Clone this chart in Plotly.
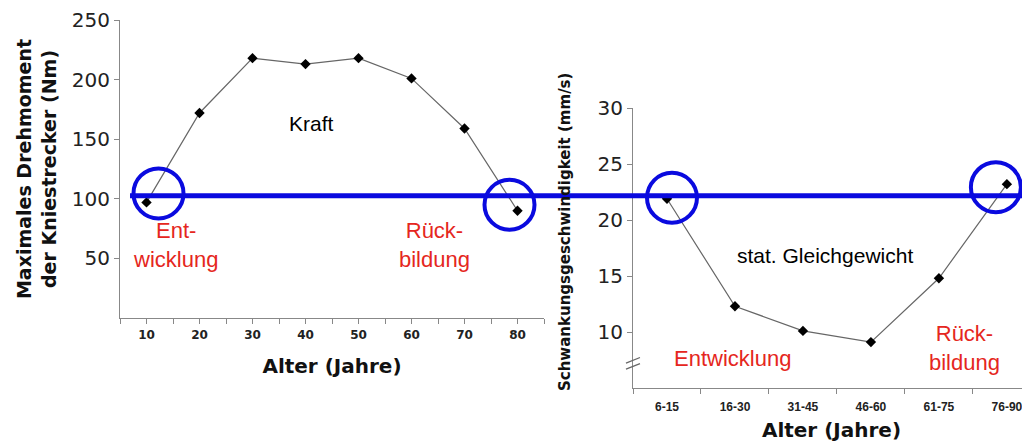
import plotly.graph_objects as go

# Left chart: Kraft
age_left = [10, 20, 30, 40, 50, 60, 70, 80]
torque = [97, 172, 218, 213, 218, 201, 159, 90]
left_xticks = [10, 20, 30, 40, 50, 60, 70, 80]
left_yticks = [50, 100, 150, 200, 250]

# Right chart: stat. Gleichgewicht
age_groups = ["6-15", "16-30", "31-45", "46-60", "61-75", "76-90"]
sway = [21.9, 12.3, 10.1, 9.1, 14.8, 23.2]
right_yticks = [10, 15, 20, 25, 30]

ref_level = 102.5  # blue reference line, in left-axis units

# page has an 8px body margin: size the figure to fill the rest of the window
OFF = 8
W, H = 1030 - OFF, 444 - OFF


def px(x):
    return (x - OFF) / W


def py(y):
    return 1 - (y - OFF) / H


comic = "DejaVu Sans"
arial = "Liberation Sans"
red = "#e52620"
blue = "#0a0adf"

fig = go.Figure()
fig.add_trace(go.Scatter(x=age_left, y=torque, mode="lines+markers",
                         line=dict(color="#666666", width=1.2),
                         marker=dict(symbol="diamond", size=8, color="black"),
                         xaxis="x", yaxis="y", showlegend=False))
fig.add_trace(go.Scatter(x=age_groups, y=sway, mode="lines+markers",
                         line=dict(color="#666666", width=1.2),
                         marker=dict(symbol="diamond", size=8, color="black"),
                         xaxis="x2", yaxis="y2", showlegend=False))

axis_common = dict(showline=True, linecolor="#888888", linewidth=1.2, showgrid=False,
                   zeroline=False, ticks="outside", tickcolor="#888888", ticklen=5,
                   automargin=False)

fig.update_layout(
    width=W, height=H, margin=dict(l=0, r=0, t=0, b=0),
    paper_bgcolor="white", plot_bgcolor="white",
    xaxis=dict(domain=[px(120), px(544)], range=[5, 85], anchor="y",
               tickmode="array", tickvals=list(range(5, 86, 5)),
               ticktext=[f"<b>{v}</b>" if v in left_xticks else "" for v in range(5, 86, 5)],
               tickfont=dict(family=comic, size=12, color="#222"),
               title=dict(text="<b>Alter (Jahre)</b>", font=dict(family=comic, size=20, color="#111"),
                          standoff=18),
               **axis_common),
    yaxis=dict(domain=[py(318), py(20)], range=[0, 250], anchor="x",
               tickvals=left_yticks, tickfont=dict(family=comic, size=20, color="#222"),
               title=dict(text="<b>Maximales Drehmoment<br>der Kniestrecker (Nm)</b>",
                          font=dict(family=comic, size=19, color="#111"), standoff=10),
               **axis_common),
    xaxis2=dict(domain=[px(633), 1.0], type="category", range=[-0.5, 5.34], anchor="y2",
                tickson="boundaries", tickvals=age_groups,
                ticktext=[f"<b>{g}</b>" for g in age_groups],
                tickfont=dict(family=arial, size=12, color="#222"),
                ticklabelstandoff=7,
                title=dict(text="<b>Alter (Jahre)</b>", font=dict(family=comic, size=20, color="#111"),
                           standoff=10),
                **axis_common),
    yaxis2=dict(domain=[py(388), py(108)], range=[5, 30], anchor="x2",
                tickvals=right_yticks, tickfont=dict(family=comic, size=20, color="#222"),
                **axis_common),
)

shapes = []
# blue horizontal reference line
shapes.append(dict(type="line", xref="paper", yref="y", x0=px(130), x1=1.0,
                   y0=ref_level, y1=ref_level, line=dict(color=blue, width=5), layer="above"))


# circles around the extreme points (pixel-sized, anchored to data points)
def circle(xa, ya, xv, yv, dx, dy, r=25):
    return dict(type="circle", xref=xa, yref=ya, xsizemode="pixel", ysizemode="pixel",
                xanchor=xv, yanchor=yv, x0=dx - r, x1=dx + r, y0=dy - r, y1=dy + r,
                line=dict(color=blue, width=4), layer="above")


shapes.append(circle("x", "y", age_left[0], torque[0], 12, 9))
shapes.append(circle("x", "y", age_left[-1], torque[-1], -8, 6))
shapes.append(circle("x2", "y2", 0, sway[0], 5, 1))
shapes.append(circle("x2", "y2", 5, sway[-1], -11, -3))

# axis break marks on the right y axis
for off in (-3, 3):
    shapes.append(dict(type="line", xref="paper", yref="y2",
                       x0=px(633 - 7), x1=px(633 + 7), y0=7.2 + off * 0.09 - 0.25,
                       y1=7.2 + off * 0.09 + 0.25, line=dict(color="#666", width=1.2)))
fig.update_layout(shapes=shapes)

ann = []
ann.append(dict(text="<b>Schwankungsgeschwindigkeit (mm/s)</b>", textangle=-90,
                x=px(565), y=py(232), xref="paper", yref="paper", showarrow=False,
                xanchor="center", yanchor="middle",
                font=dict(family=comic, size=15, color="#111")))
ann.append(dict(text="Kraft", x=41.2, y=163, xref="x", yref="y", showarrow=False,
                font=dict(family=arial, size=21, color="black")))
ann.append(dict(text="Ent-<br>wicklung", x=15.4, y=61, xref="x", yref="y", showarrow=False,
                font=dict(family=arial, size=22, color=red)))
ann.append(dict(text="Rück-<br>bildung", x=64.4, y=61, xref="x", yref="y", showarrow=False,
                font=dict(family=arial, size=22, color=red)))
ann.append(dict(text="stat. Gleichgewicht", x=2.32, y=16.8, xref="x2", yref="y2", showarrow=False,
                font=dict(family=arial, size=21, color="black")))
ann.append(dict(text="Entwicklung", x=0.96, y=7.6, xref="x2", yref="y2", showarrow=False,
                font=dict(family=arial, size=22, color=red)))
ann.append(dict(text="Rück-<br>bildung", x=4.37, y=8.6, xref="x2", yref="y2", showarrow=False,
                font=dict(family=arial, size=22, color=red)))
fig.update_layout(annotations=ann)

fig.write_html("out.html")
